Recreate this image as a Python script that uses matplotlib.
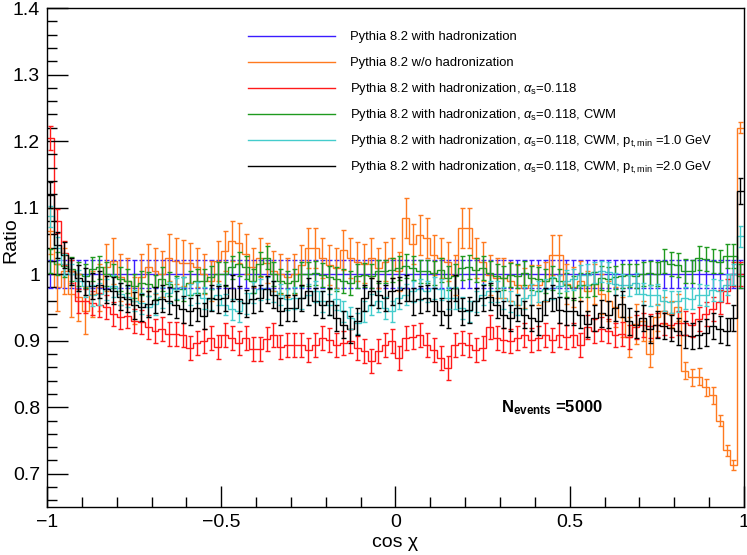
import numpy as np
import matplotlib
matplotlib.use("Agg")
import matplotlib.pyplot as plt
from matplotlib.ticker import MultipleLocator, FuncFormatter

plt.rcParams['font.family'] = ['Liberation Sans', 'DejaVu Sans']
plt.rcParams['mathtext.fontset'] = 'custom'
plt.rcParams['mathtext.rm'] = 'Liberation Sans'
plt.rcParams['mathtext.it'] = 'Liberation Sans:italic'
plt.rcParams['mathtext.bf'] = 'Liberation Sans:bold'

# 100 bins in cos chi from -1 to 1
edges = np.linspace(-1.0, 1.0, 101)
centers = 0.5 * (edges[:-1] + edges[1:])

# reference sample divided by itself -> 1 everywhere
blue = [1.0] * 100

orange = [1.065, 0.98, 1.005, 0.97, 0.965, 0.945, 0.97, 0.98, 1.01, 1.02,
          0.995, 0.99, 0.96, 0.995, 1.01, 1.005, 1.0, 1.025, 1.02, 1.017,
          1.017, 1.01, 1.0, 0.99, 1.02, 1.035, 1.05, 1.047, 1.03, 1.01,
          1.025, 1.017, 1.005, 1.0, 0.995, 1.0, 1.014, 1.039, 1.039, 1.024,
          1.014, 1.009, 1.036, 1.024, 1.019, 1.016, 1.024, 1.009, 1.019, 1.024,
          1.004, 1.084, 1.046, 1.059, 1.054, 1.029, 1.024, 1.019, 0.999, 1.069,
          1.069, 1.024, 1.019, 0.999, 0.994, 0.994, 0.989, 0.984, 0.979, 0.984,
          0.984, 0.989, 1.029, 1.029, 0.985, 0.98, 0.99, 0.975, 0.985, 0.97,
          0.96, 0.95, 0.935, 0.905, 0.925, 0.93, 0.88, 0.935, 0.945, 0.94,
          0.95, 0.855, 0.845, 0.846, 0.83, 0.818, 0.78, 0.735, 0.713, 1.22]

red = [1.205, 1.08, 1.032, 1.004, 0.959, 0.959, 0.957, 0.953, 0.95, 0.94,
       0.935, 0.937, 0.93, 0.928, 0.92, 0.915, 0.917, 0.91, 0.91, 0.909,
       0.889, 0.896, 0.899, 0.904, 0.891, 0.909, 0.904, 0.896, 0.904, 0.887,
       0.887, 0.902, 0.909, 0.891, 0.893, 0.893, 0.894, 0.886, 0.894, 0.904,
       0.901, 0.894, 0.896, 0.899, 0.889, 0.884, 0.869, 0.884, 0.894, 0.899,
       0.874, 0.904, 0.906, 0.909, 0.894, 0.886, 0.874, 0.859, 0.894, 0.896,
       0.894, 0.886, 0.889, 0.921, 0.904, 0.901, 0.899, 0.904, 0.909, 0.901,
       0.904, 0.909, 0.901, 0.909, 0.906, 0.908, 0.893, 0.92, 0.915, 0.917,
       0.915, 0.908, 0.91, 0.905, 0.92, 0.924, 0.922, 0.924, 0.927, 0.924,
       0.927, 0.927, 0.924, 0.933, 0.94, 0.948, 0.958, 0.975, 1.0, 1.0]

green = [1.02, 1.016, 1.013, 1.008, 1.0, 0.997, 1.008, 1.01, 1.0, 0.997,
         0.993, 0.99, 0.982, 0.987, 0.985, 0.98, 0.992, 0.985, 0.979, 0.978,
         0.986, 0.99, 0.99, 0.995, 1.0, 1.0, 1.01, 1.015, 1.01, 0.99,
         1.015, 1.025, 1.0, 0.99, 0.986, 0.99, 1.0, 1.0, 1.002, 0.999,
         0.995, 0.992, 0.989, 0.987, 0.997, 0.999, 0.997, 1.004, 1.004, 1.006,
         1.009, 1.012, 1.009, 1.004, 1.004, 1.002, 1.006, 0.994, 0.997, 1.009,
         1.011, 1.006, 1.009, 1.002, 0.997, 0.994, 0.999, 0.997, 1.002, 0.994,
         0.992, 0.989, 0.994, 0.989, 0.984, 0.979, 0.984, 0.984, 0.985, 0.994,
         0.993, 0.995, 0.997, 0.998, 0.997, 1.0, 1.002, 1.0, 1.02, 1.015,
         1.014, 1.005, 1.004, 1.024, 1.023, 1.02, 1.019, 1.027, 1.027, 0.997]

cyan = [1.087, 1.04, 1.015, 1.0, 0.99, 0.982, 0.968, 0.97, 0.977, 0.982,
        0.97, 0.966, 0.96, 0.956, 0.951, 0.955, 0.965, 0.972, 0.978, 0.98,
        0.969, 0.972, 0.964, 0.962, 0.969, 0.954, 0.947, 0.944, 0.956, 0.972,
        0.977, 0.979, 0.974, 0.969, 0.962, 0.964, 0.964, 0.969, 0.974, 0.959,
        0.954, 0.962, 0.944, 0.934, 0.926, 0.944, 0.954, 0.959, 0.949, 0.944,
        0.964, 0.969, 0.974, 0.977, 0.974, 0.979, 0.977, 0.964, 0.964, 0.949,
        0.944, 0.959, 0.969, 0.974, 0.974, 0.964, 0.959, 0.954, 0.964, 0.969,
        0.974, 0.977, 0.979, 0.982, 0.99, 0.992, 0.998, 0.999, 1.003, 1.004,
        1.003, 0.985, 0.984, 0.983, 0.986, 0.97, 0.968, 0.969, 0.96, 0.958,
        0.959, 0.964, 0.963, 0.969, 0.968, 0.976, 0.975, 0.984, 1.0, 1.057]

black = [1.119, 1.044, 1.029, 1.004, 0.994, 0.989, 0.982, 0.984, 0.977, 0.975,
         0.966, 0.963, 0.953, 0.95, 0.955, 0.961, 0.963, 0.96, 0.954, 0.947,
         0.944, 0.949, 0.937, 0.964, 0.962, 0.964, 0.979, 0.962, 0.956, 0.962,
         0.964, 0.977, 0.969, 0.944, 0.949, 0.949, 0.964, 0.974, 0.959, 0.954,
         0.959, 0.934, 0.924, 0.917, 0.929, 0.964, 0.974, 0.969, 0.964, 0.974,
         0.976, 0.979, 0.959, 0.962, 0.964, 0.959, 0.944, 0.939, 0.979, 0.944,
         0.946, 0.959, 0.964, 0.966, 0.954, 0.939, 0.934, 0.949, 0.939, 0.934,
         0.929, 0.959, 0.964, 0.946, 0.944, 0.944, 0.939, 0.925, 0.934, 0.941,
         0.939, 0.949, 0.955, 0.929, 0.924, 0.934, 0.917, 0.924, 0.922, 0.919,
         0.914, 0.909, 0.907, 0.909, 0.912, 0.922, 0.917, 0.914, 0.934, 1.125]

blue_err = 0.021
red_err = 0.018
green_err = 0.018
cyan_err = 0.016
black_err = 0.02
orange_err = [0.035] * 20 + [0.03] * 66 + [0.02] * 5 + [0.013] * 5 + [0.008] * 4

labels = [
    'Pythia 8.2 with hadronization',
    'Pythia 8.2 w/o hadronization',
    r'Pythia 8.2 with hadronization, $\alpha_{\rm s}$=0.118',
    r'Pythia 8.2 with hadronization, $\alpha_{\rm s}$=0.118, CWM',
    r'Pythia 8.2 with hadronization, $\alpha_{\rm s}$=0.118, CWM, p$_{\rm t,min}$ =1.0 GeV',
    r'Pythia 8.2 with hadronization, $\alpha_{\rm s}$=0.118, CWM, p$_{\rm t,min}$ =2.0 GeV',
]
colors = ['#3a1cff', '#ff7a1f', '#ff1a1a', '#1f9a1f', '#44cccc', '#000000']
values = [blue, orange, red, green, cyan, black]
errors = [blue_err, orange_err, red_err, green_err, cyan_err, black_err]

fig = plt.figure(figsize=(7.47, 5.55), dpi=100)
ax = fig.add_axes([0.0629, 0.0865, 0.933, 0.899])

for vals, err, col in zip(values, errors, colors):
    ax.stairs(vals, edges, baseline=None, color=col, lw=1.0)
    ax.errorbar(centers, vals, yerr=err, fmt='none', ecolor=col,
                elinewidth=1.0, capsize=1.8, capthick=1.0)

ax.set_xlim(-1, 1)
ax.set_ylim(0.65, 1.4)

fmt = FuncFormatter(lambda v, p: ('%g' % round(v, 3)).replace('-', '\u2212'))
ax.xaxis.set_major_locator(MultipleLocator(0.5))
ax.xaxis.set_minor_locator(MultipleLocator(0.1))
ax.yaxis.set_major_locator(MultipleLocator(0.1))
ax.yaxis.set_minor_locator(MultipleLocator(0.02))
ax.xaxis.set_major_formatter(fmt)
ax.yaxis.set_major_formatter(fmt)
ax.tick_params(which='both', direction='in', top=False, right=False, width=1.0)
ax.tick_params(which='major', length=15, labelsize=14, pad=5)
ax.tick_params(which='minor', length=7.5)
for s in ax.spines.values():
    s.set_linewidth(1.0)

ax.set_xlabel('cos \u03c7', fontsize=14)
ax.xaxis.set_label_coords(0.5, -0.055)
ax.set_ylabel('Ratio', fontsize=14)
ax.yaxis.set_label_coords(-0.040, 0.535)

# legend drawn by hand, ROOT style without frame
y0 = 0.9445
for i, (lab, col) in enumerate(zip(labels, colors)):
    yy = y0 - i * 0.0521
    ax.plot([0.288, 0.413], [yy, yy], color=col, lw=1.0, transform=ax.transAxes)
    ax.text(0.435, yy - 0.0095, lab, fontsize=9.4, va='baseline', ha='left',
            transform=ax.transAxes)

ax.text(0.302, 0.80, r'$\mathbf{N_{events}}$ =5000', fontsize=12,
        fontweight='bold', va='center', ha='left')

fig.savefig('out.png', dpi=100)
